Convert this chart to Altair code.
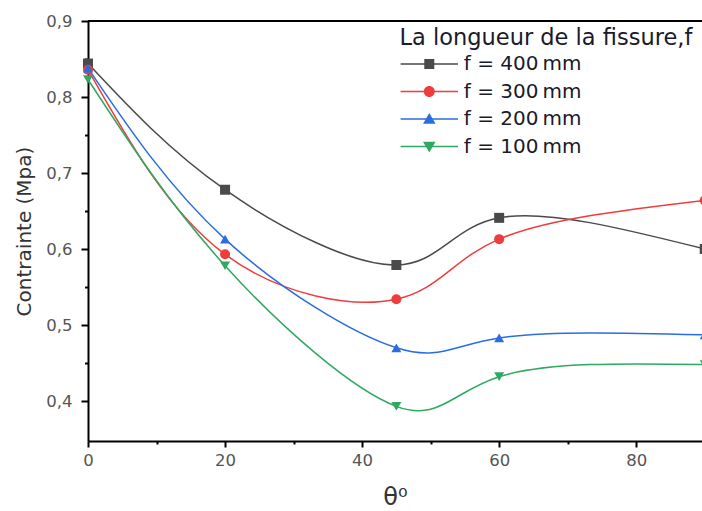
import altair as alt
import pandas as pd

# ---- data ----
angles = [0, 20, 45, 60, 90]
f400 = [0.844, 0.678, 0.579, 0.641, 0.600]
f300 = [0.836, 0.593, 0.534, 0.613, 0.664]
f200 = [0.838, 0.613, 0.470, 0.483, 0.487]
f100 = [0.823, 0.578, 0.393, 0.432, 0.448]
series_names = ["f = 400\u2009mm", "f = 300\u2009mm", "f = 200\u2009mm", "f = 100\u2009mm"]
colors = ["#4a4a4a", "#f03c3c", "#2a6de0", "#2fa860"]
shapes = ["square", "circle", "triangle-up", "triangle-down"]
x_ticks = [0, 10, 20, 30, 40, 50, 60, 70, 80]
y_ticks = [0.4, 0.45, 0.5, 0.55, 0.6, 0.65, 0.7, 0.75, 0.8, 0.85, 0.9]

rows = []
for name, vals in zip(series_names, [f400, f300, f200, f100]):
    for a, v in zip(angles, vals):
        rows.append({"angle": a, "stress": v, "series": name})
df = pd.DataFrame(rows)

FONT = "DejaVu Sans"
X_MAX = 89.6
Y_MIN, Y_MAX = 0.3474, 0.9

xscale = alt.Scale(domain=[0, X_MAX], nice=False, zero=False)
yscale = alt.Scale(domain=[Y_MIN, Y_MAX], nice=False, zero=False)
cscale = alt.Scale(domain=series_names, range=colors)

# legend glyphs: a thin filled bar (the line) plus the filled marker
BAR = "M-5.74,-0.15H5.74V0.15H-5.74Z"
legend_glyphs = [
    BAR + "M-1,-1H1V1H-1Z",
    BAR + "M1.1,0A1.1,1.1,0,1,1,-1.1,0A1.1,1.1,0,1,1,1.1,0Z",
    BAR + "M0,-1.2L1.25,0.95H-1.25Z",
    BAR + "M0,1.2L-1.25,-0.95H1.25Z",
]
gscale = alt.Scale(domain=series_names, range=legend_glyphs)

major_x = "datum.value % 20 == 0"
major_y = "abs(datum.value * 10 - round(datum.value * 10)) < 0.001"

xaxis = alt.Axis(
    values=x_ticks, grid=False, title="\u03b8\u2070", labelFlush=False,
    labelExpr=f"{major_x} ? datum.label : ''",
    tickSize={"condition": {"test": major_x, "value": 6}, "value": 3},
    domainColor="black", domainWidth=2, tickColor="black", tickWidth=2,
    labelFont=FONT, labelFontSize=16.5, labelColor="#555555", labelPadding=5,
    titleFont=FONT, titleFontSize=24, titleFontWeight="normal", titleColor="#333333",
    titlePadding=17,
)
yaxis = alt.Axis(
    values=y_ticks, grid=False, title="Contrainte (Mpa)", labelFlush=False,
    labelExpr=f"{major_y} ? replace(format(datum.value, '.1f'), '.', ',') : ''",
    tickSize={"condition": {"test": major_y, "value": 7}, "value": 3.5},
    domainColor="black", domainWidth=2, tickColor="black", tickWidth=2,
    labelFont=FONT, labelFontSize=16.5, labelColor="#555555", labelPadding=9,
    titleFont=FONT, titleFontSize=20, titleFontWeight="normal", titleColor="#333333",
    titlePadding=11,
)

legend = alt.Legend(
    orient="none", legendX=311.5, legendY=6, padding=0,
    title="La longueur de la fissure,f",
    titleFont=FONT, titleFontSize=22.5, titleFontWeight="normal", titleColor="#1a1a2a",
    titleLimit=400, labelLimit=300, titlePadding=4.5,
    labelFont=FONT, labelFontSize=20, labelColor="#1a1a2a",
    symbolSize=100, symbolOffset=19.8, labelOffset=24.5, rowPadding=7.5,
    symbolStrokeWidth=0, symbolOpacity=1,
)

base = alt.Chart(df)

# invisible layer that only carries the legend (line + marker glyphs)
legend_proxy = base.mark_point(filled=True, opacity=0, size=100).encode(
    x=alt.X("angle:Q", scale=xscale, axis=xaxis),
    y=alt.Y("stress:Q", scale=yscale, axis=yaxis),
    color=alt.Color("series:N", scale=cscale, legend=legend),
    shape=alt.Shape("series:N", scale=gscale, legend=legend),
)

lines = base.mark_line(interpolate="natural", strokeWidth=1.5).encode(
    x=alt.X("angle:Q", scale=xscale),
    y=alt.Y("stress:Q", scale=yscale),
    stroke=alt.Stroke("series:N", scale=cscale, legend=None),
    detail="series:N",
)

point_layers = []
for name, shp in zip(series_names, shapes):
    point_layers.append(
        base.transform_filter(alt.datum.series == name)
        .mark_point(filled=True, size=100, opacity=1, shape=shp)
        .encode(
            x=alt.X("angle:Q", scale=xscale),
            y=alt.Y("stress:Q", scale=yscale),
            fill=alt.Fill("series:N", scale=cscale, legend=None),
        )
    )

frame_df = pd.DataFrame({"x0": [0], "x1": [X_MAX], "y": [Y_MAX]})
top_border = alt.Chart(frame_df).mark_rule(color="black", strokeWidth=2).encode(
    x=alt.X("x0:Q", scale=xscale),
    x2="x1:Q",
    y=alt.Y("y:Q", scale=yscale),
)

chart = (
    alt.layer(legend_proxy, top_border, lines, *point_layers)
    .properties(
        width=614, height=420,
        autosize=alt.AutoSizeParams(type="none"),
        padding={"left": 88, "top": 21, "right": 0, "bottom": 70},
        background="white",
    )
    .configure_view(stroke=None)
)

chart.save("out.html", embed_options={"renderer": "svg", "actions": False})
